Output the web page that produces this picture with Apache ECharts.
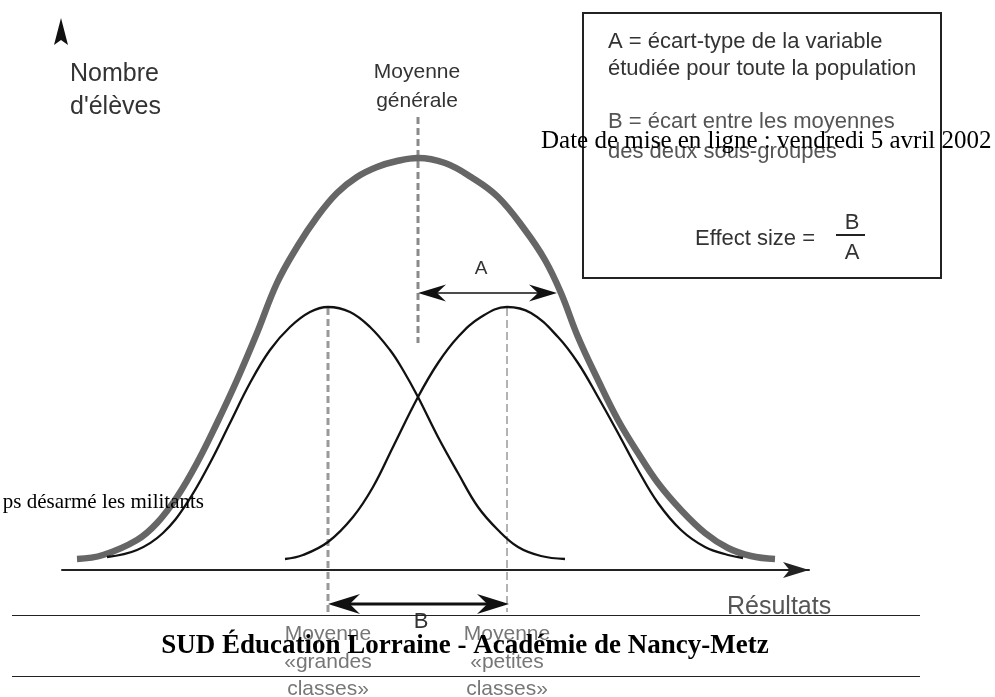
<!DOCTYPE html>
<html><head><meta charset="utf-8">
<script src="https://cdn.jsdelivr.net/npm/echarts@6/dist/echarts.min.js"></script>
<style>html,body{margin:0;padding:0;background:#fff}#c{width:995px;height:697px}</style>
</head><body><div id="c"></div>
<script>
// Units: x = résultats, y = nombre d'élèves
const populationX = [15,41,75,95,115,135,155,175,195,215,235,255,275,295,315,335,356,383,409,436,463,483,499,516,536,556,576,596,619,643,666,689,713];
const populationY = [11,15,30,47,73,107,147,190,237,287,323,353,377,393,403,409,412,407,393,373,340,310,277,233,190,150,117,87,60,37,22,14,11];
const grandesX = [45,75,101,125,148,168,188,208,228,248,266,288,308,328,341,356,376,396,416,436,456,479,503];
const grandesY = [13,20,37,67,107,147,187,220,243,258,263,258,243,220,200,173,133,97,63,40,23,14,11];
const petitesX = [223,241,266,291,311,331,356,376,396,419,445,469,496,516,536,556,576,596,619,643,666,681];
const petitesY = [11,15,28,53,83,123,173,207,233,253,263,257,233,207,173,137,100,67,40,23,15,12];
const meanX = [356, 266, 445];          // générale, grandes classes, petites classes
const meanTop = [453, 262, 262];
const meanBottom = [227, -42, -42];
const arrowFrom = [356, 266];            // A, B
const arrowTo = [495, 447];
const arrowLevel = [277, -34];

const pair = (xs, ys) => xs.map((x, i) => [x, ys[i]]);

const meanStyles = [
  {stroke: '#8a8a8a', lineWidth: 3, lineDash: [7, 4]},
  {stroke: '#999', lineWidth: 3, lineDash: [7, 4]},
  {stroke: '#9a9a9a', lineWidth: 1.5, lineDash: [8, 4]}
];
const arrowStyles = [
  {lineWidth: 1.5, len: 28, wid: 17},
  {lineWidth: 3, len: 32, wid: 20}
];

const T = (text, x, y, size, opts) => Object.assign({
  type: 'text', z: 10,
  style: Object.assign({
    text: text, x: x, y: y,
    font: size + 'px "Liberation Sans", Arial, sans-serif',
    fill: '#333', textAlign: 'left', align: 'left',
    textVerticalAlign: 'middle', verticalAlign: 'middle'
  }, opts || {})
});

const chart = echarts.init(document.getElementById('c'), null, {renderer: 'canvas'});
chart.setOption({
  animation: false,
  backgroundColor: '#fff',
  grid: {left: 62, right: 186, top: 0, bottom: 0},
  xAxis: {
    type: 'value', min: 0, max: 747,
    axisLine: {show: true, onZero: true, symbol: ['none', 'arrow'], symbolSize: [12, 26],
      lineStyle: {color: '#222', width: 2}},
    axisTick: {show: false}, axisLabel: {show: false}, splitLine: {show: false}
  },
  yAxis: {
    type: 'value', min: -127, max: 570, show: false,
    axisLine: {show: false}, splitLine: {show: false}
  },
  series: [
    {type: 'line', name: 'Population', data: pair(populationX, populationY), smooth: 0.4,
      showSymbol: false, silent: true, z: 2,
      lineStyle: {color: '#666', width: 6.5, cap: 'butt'}},
    {type: 'line', name: 'Grandes classes', data: pair(grandesX, grandesY), smooth: 0.4,
      showSymbol: false, silent: true, z: 3,
      lineStyle: {color: '#111', width: 2.3}},
    {type: 'line', name: 'Petites classes', data: pair(petitesX, petitesY), smooth: 0.4,
      showSymbol: false, silent: true, z: 3,
      lineStyle: {color: '#111', width: 2.3}},
    {type: 'custom', name: 'Moyennes', silent: true, z: 1,
      data: meanX.map((x, i) => [x, meanTop[i], meanBottom[i]]),
      renderItem: function (params, api) {
        const p1 = api.coord([api.value(0), api.value(1)]);
        const p2 = api.coord([api.value(0), api.value(2)]);
        const st = meanStyles[params.dataIndex];
        return {type: 'line', shape: {x1: p1[0], y1: p1[1], x2: p2[0], y2: p2[1]},
          style: {stroke: st.stroke, lineWidth: st.lineWidth, lineDash: st.lineDash}};
      }},
    {type: 'custom', name: 'Flèches', silent: true, z: 4,
      data: arrowFrom.map((x, i) => [x, arrowTo[i], arrowLevel[i]]),
      renderItem: function (params, api) {
        const a = api.coord([api.value(0), api.value(2)]);
        const b = api.coord([api.value(1), api.value(2)]);
        const st = arrowStyles[params.dataIndex];
        const L = st.len, W = st.wid / 2, y = a[1];
        return {type: 'group', children: [
          {type: 'line', shape: {x1: a[0] + 6, y1: y, x2: b[0] - 6, y2: y},
            style: {stroke: '#111', lineWidth: st.lineWidth}},
          {type: 'polygon', shape: {points: [[a[0], y], [a[0] + L, y - W], [a[0] + L * 0.68, y], [a[0] + L, y + W]]},
            style: {fill: '#111'}},
          {type: 'polygon', shape: {points: [[b[0], y], [b[0] - L, y - W], [b[0] - L * 0.68, y], [b[0] - L, y + W]]},
            style: {fill: '#111'}}
        ]};
      }}
  ],
  graphic: [
    {type: 'polygon', z: 10, shape: {points: [[61, 18], [68, 45], [61, 40], [54, 45]]}, style: {fill: '#111'}},
    T('Nombre', 70, 74, 25),
    T('d\'élèves', 70, 107, 25),
    T('Moyenne', 417, 72, 21, {textAlign: 'center', align: 'center'}),
    T('générale', 417, 101, 21, {textAlign: 'center', align: 'center'}),
    T('A', 481, 269, 19, {textAlign: 'center', align: 'center'}),
    T('B', 421, 622, 22, {textAlign: 'center', align: 'center'}),
    T('Résultats', 727, 607, 25, {fill: '#555'}),
    T('Moyenne', 328, 634, 21, {textAlign: 'center', align: 'center', fill: '#777'}),
    T('«grandes', 328, 662, 21, {textAlign: 'center', align: 'center', fill: '#777'}),
    T('classes»', 328, 689, 21, {textAlign: 'center', align: 'center', fill: '#777'}),
    T('Moyenne', 507, 634, 21, {textAlign: 'center', align: 'center', fill: '#777'}),
    T('«petites', 507, 662, 21, {textAlign: 'center', align: 'center', fill: '#777'}),
    T('classes»', 507, 689, 21, {textAlign: 'center', align: 'center', fill: '#777'}),
    {type: 'rect', z: 8, shape: {x: 583, y: 13, width: 358, height: 265},
      style: {fill: '#fff', stroke: '#222', lineWidth: 2}},
    T('A = écart-type de la variable', 608, 42, 22),
    T('étudiée pour toute la population', 608, 69, 22),
    T('B = écart entre les moyennes', 608, 122, 22, {fill: '#555'}),
    T('des deux sous-groupes', 608, 152, 22, {fill: '#555'}),
    T('Effect size =', 695, 239, 22),
    T('B', 852, 223, 22, {textAlign: 'center', align: 'center'}),
    {type: 'line', z: 10, shape: {x1: 836, y1: 235, x2: 865, y2: 235}, style: {stroke: '#222', lineWidth: 2}},
    T('A', 852, 253, 22, {textAlign: 'center', align: 'center'}),
    {type: 'line', z: 10, shape: {x1: 12, y1: 615.5, x2: 920, y2: 615.5}, style: {stroke: '#222', lineWidth: 1}},
    {type: 'line', z: 10, shape: {x1: 12, y1: 676.5, x2: 920, y2: 676.5}, style: {stroke: '#222', lineWidth: 1}},
    T('Date de mise en ligne : vendredi 5 avril 2002', 541, 141, 25,
      {font: '25px "Liberation Serif", "Times New Roman", serif', fill: '#000'}),
    T('ps désarmé les militants', 204, 502, 21,
      {font: '21px "Liberation Serif", "Times New Roman", serif', fill: '#000', textAlign: 'right', align: 'right'}),
    T('SUD Éducation Lorraine - Académie de Nancy-Metz', 465, 646, 27,
      {font: 'bold 27px "Liberation Serif", "Times New Roman", serif', fill: '#000', textAlign: 'center', align: 'center'})
  ]
});
</script></body></html>
